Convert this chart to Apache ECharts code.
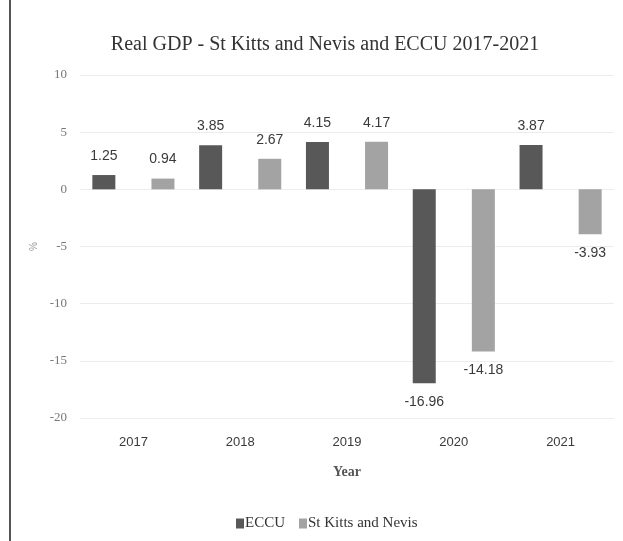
<!DOCTYPE html>
<html>
<head>
<meta charset="utf-8">
<script src="https://cdn.jsdelivr.net/npm/echarts@6/dist/echarts.min.js"></script>
<style>
html,body{margin:0;padding:0;background:#fff;}
#chart{width:623px;height:541px;}
</style>
</head>
<body>
<div id="chart"></div>
<script>
const categories = ['2017', '2018', '2019', '2020', '2021'];
const eccu = [1.25, 3.85, 4.15, -16.96, 3.87];
const skn = [0.94, 2.67, 4.17, -14.18, -3.93];
const seriesNames = ['ECCU', 'St Kitts and Nevis'];
const titleText = 'Real GDP - St Kitts and Nevis and ECCU 2017-2021';

const labelFont = "'Liberation Sans', Arial, sans-serif";
const serif = "'Liberation Serif', 'DejaVu Serif', serif";

function toItems(arr) {
  return arr.map(v => ({
    value: v,
    label: { position: v < 0 ? 'bottom' : 'top' }
  }));
}

const chart = echarts.init(document.getElementById('chart'));
chart.setOption({
  animation: false,
  backgroundColor: '#ffffff',
  title: {
    text: titleText,
    left: 320,
    textAlign: 'center',
    top: 30,
    textStyle: { fontFamily: serif, fontSize: 20, fontWeight: 'normal', color: '#333' }
  },
  legend: {
    data: seriesNames,
    left: 231,
    top: 511,
    itemWidth: 8,
    itemHeight: 10,
    itemGap: 14,
    icon: 'rect',
    textStyle: { fontFamily: serif, fontSize: 15, color: '#333', padding: [0, 0, 0, -4] }
  },
  grid: { left: 80, right: 9, top: 75, bottom: 123, containLabel: false },
  xAxis: {
    type: 'category',
    data: categories,
    name: 'Year',
    nameLocation: 'middle',
    nameGap: 47,
    nameTextStyle: { fontFamily: serif, fontSize: 14, fontWeight: 'bold', color: '#555' },
    axisLine: { show: false },
    axisTick: { show: false },
    axisLabel: { fontFamily: labelFont, fontSize: 13, color: '#3a3a3a', margin: 18 }
  },
  yAxis: {
    type: 'value',
    min: -20,
    max: 10,
    interval: 5,
    name: '%',
    nameLocation: 'middle',
    nameGap: 38,
    nameRotate: 90,
    nameTextStyle: { fontFamily: labelFont, fontSize: 10, color: '#999' },
    axisLine: { show: false },
    axisTick: { show: false },
    splitLine: { lineStyle: { color: '#ececec', width: 1 } },
    axisLabel: { fontFamily: serif, fontSize: 13, color: '#777', margin: 13 }
  },
  series: [
    {
      name: seriesNames[0],
      type: 'bar',
      data: toItems(eccu),
      barWidth: 23,
      barGap: '157%',
      itemStyle: { color: '#585858' },
      label: { show: true, distance: 12, fontFamily: labelFont, fontSize: 14, color: '#3a3a3a' }
    },
    {
      name: seriesNames[1],
      type: 'bar',
      data: toItems(skn),
      barWidth: 23,
      barGap: '157%',
      itemStyle: { color: '#a3a3a3' },
      label: { show: true, distance: 12, fontFamily: labelFont, fontSize: 14, color: '#3a3a3a' }
    }
  ],
  graphic: [
    { type: 'line', shape: { x1: 10, y1: 0, x2: 10, y2: 541 }, style: { stroke: '#555', lineWidth: 2 } }
  ]
});
</script>
</body>
</html>
